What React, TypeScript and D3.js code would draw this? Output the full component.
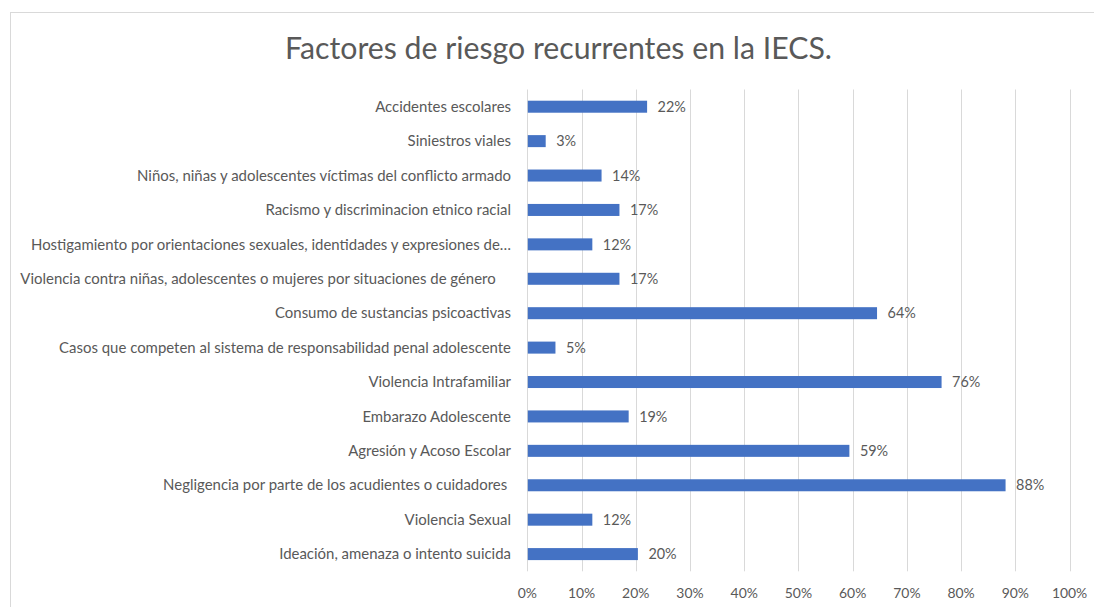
import React from "react";
import * as d3 from "d3";

const title = "Factores de riesgo recurrentes en la IECS.";

const categories = [
  "Accidentes escolares",
  "Siniestros viales",
  "Niños, niñas y adolescentes víctimas del conflicto armado",
  "Racismo y discriminacion etnico racial",
  "Hostigamiento por orientaciones sexuales, identidades y expresiones de…",
  "Violencia contra niñas, adolescentes o mujeres por situaciones de género    ",
  "Consumo de sustancias psicoactivas",
  "Casos que competen al sistema de responsabilidad penal adolescente",
  "Violencia Intrafamiliar",
  "Embarazo Adolescente",
  "Agresión y Acoso Escolar",
  "Negligencia por parte de los acudientes o cuidadores ",
  "Violencia Sexual",
  "Ideación, amenaza o intento suicida",
];

const values = [0.22, 0.033, 0.136, 0.169, 0.119, 0.169, 0.644, 0.051, 0.763, 0.186, 0.593, 0.881, 0.119, 0.203];

const ticks = [0, 0.1, 0.2, 0.3, 0.4, 0.5, 0.6, 0.7, 0.8, 0.9, 1.0];

const FONT = "Lato, 'Open Sans', sans-serif";

function measure(text: string, size: number) {
  const c = document.createElement("canvas");
  const ctx = c.getContext("2d")!;
  ctx.font = `${size}px Lato`;
  return ctx.measureText(text).width;
}

function fitSize(text: string, target: number) {
  const w = measure(text, 100);
  return w > 0 ? (100 * target) / w : 14;
}

export default function App() {
  const W = 1094;
  const H = 607;
  const left = 527.3;
  const right = 1069.6;
  const top = 89.5;
  const bottom = 571.3;

  const x = d3.scaleLinear().domain([0, 1]).range([left, right]);
  const p = 0.651;
  const y = d3
    .scaleBand<string>()
    .domain(categories)
    .range([top, bottom])
    .paddingInner(p)
    .paddingOuter(p / 2);

  const catSize = fitSize("Violencia contra niñas, adolescentes o mujeres por situaciones de género", 476);
  const titleSize = fitSize(title, 547);
  const valSize = fitSize("12%", 28.3);
  const tickSize = fitSize("10%", 27.3);
  const fmt = d3.format(".0%");

  return (
    <svg
      width={W}
      height={H}
      style={{ position: "absolute", left: 0, top: 0, background: "#fff" }}
      fontFamily={FONT}
    >
      <rect x={10.5} y={12.5} width={1100} height={620} fill="#fff" stroke="#d9d9d9" strokeWidth={1} />
      <text
        x={558.5}
        y={59}
        textAnchor="middle"
        fontSize={titleSize}
        fill="#595959"
      >
        {title}
      </text>
      {ticks.map((t) => (
        <line
          key={"g" + t}
          x1={Math.round(x(t)) + 0.5}
          x2={Math.round(x(t)) + 0.5}
          y1={top}
          y2={bottom}
          stroke="#d9d9d9"
          strokeWidth={1}
        />
      ))}
      {categories.map((c, i) => (
        <g key={c}>
          <rect
            x={x(0) + 0.5}
            y={y(c)!}
            width={x(values[i]) - x(0)}
            height={y.bandwidth()}
            fill="#4472C4"
          />
          <text
            x={511}
            y={y(c)! + y.bandwidth() / 2}
            dy="0.35em"
            textAnchor="end"
            fontSize={catSize}
            fill="#595959"
            style={{ whiteSpace: "pre" }}
          >
            {c}
          </text>
          <text
            x={x(values[i]) + 11}
            y={y(c)! + y.bandwidth() / 2}
            dy="0.36em"
            textAnchor="start"
            fontSize={valSize}
            fill="#595959"
          >
            {fmt(values[i])}
          </text>
        </g>
      ))}
      {ticks.map((t) => (
        <text
          key={"t" + t}
          x={x(t)}
          y={597.5}
          textAnchor="middle"
          fontSize={tickSize}
          fill="#595959"
        >
          {fmt(t)}
        </text>
      ))}
    </svg>
  );
}
